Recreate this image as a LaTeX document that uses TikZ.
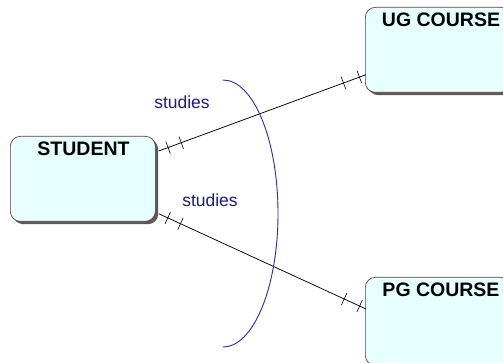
\documentclass[tikz,border=0pt]{standalone}
\usepackage{fontspec}
\setmainfont{Liberation Sans}
\usetikzlibrary{calc,decorations.markings,shadows}
\definecolor{boxfill}{HTML}{E6FFFF}
\definecolor{boxline}{HTML}{6A3A3A}
\definecolor{shadowc}{HTML}{5A5A5A}
\definecolor{relblue}{HTML}{1A1A8C}
\definecolor{arcblue}{HTML}{2A2AB0}
\begin{document}
\begin{tikzpicture}[x=1pt,y=-1pt,
  entity/.style={draw=boxline, line width=0.7pt, fill=boxfill, rounded corners=10pt,
     minimum width=145pt, minimum height=85pt, inner sep=0pt, anchor=north west,
     drop shadow={shadow xshift=2.8pt, shadow yshift=-2.8pt, fill=shadowc, opacity=1}},
  title/.style={font=\fontsize{19.5}{22}\selectfont\bfseries, anchor=base, inner sep=0pt},
  rellabel/.style={font=\fontsize{17.5}{20}\selectfont, text=relblue, anchor=base, inner sep=0pt},
  conn/.style={draw=black, line width=0.75pt, postaction={decorate},
     decoration={markings,
       mark=at position 10pt with {\draw[line width=0.6pt] (0,-6.5pt) -- (0,6.5pt);},
       mark=at position 24pt with {\draw[line width=0.6pt] (0,-6.5pt) -- (0,6.5pt);},
       mark=at position -24pt with {\draw[line width=0.6pt] (0,-6.5pt) -- (0,6.5pt);},
       mark=at position -7pt with {\draw[line width=0.6pt] (0,-6.5pt) -- (0,6.5pt);}}}
]
\clip (0,0) rectangle (503,363);
\fill[white] (0,0) rectangle (503,363);

\node[entity] (student) at (10,136) {};
\node[entity] (ug) at (365,7) {};
\node[entity, minimum height=88pt] (pg) at (365,277) {};

\node[title] (studentT) at ($(student.north west)+(73.5,20)$) {STUDENT};
\node[title] (ugT) at ($(ug.north west)+(76,20)$) {UG COURSE};
\node[title] (pgT) at ($(pg.north west)+(76,19)$) {PG COURSE};

\coordinate (s1) at ($(student.north east)+(3,15)$);
\coordinate (u1) at ($(ug.south west)+(1,-18)$);
\coordinate (s2) at ($(student.south east)+(3,-8)$);
\coordinate (p1) at ($(pg.north west)+(1,32)$);

\draw[conn] (s1) -- (u1);
\draw[conn] (s2) -- (p1);

\node[rellabel] (rel1) at (182,109) {studies};
\node[rellabel] (rel2) at (210,207) {studies};

\draw[arcblue, line width=0.9pt] (223,80) arc[start angle=-90, end angle=90, x radius=55, y radius=133.5];
\end{tikzpicture}
\end{document}
